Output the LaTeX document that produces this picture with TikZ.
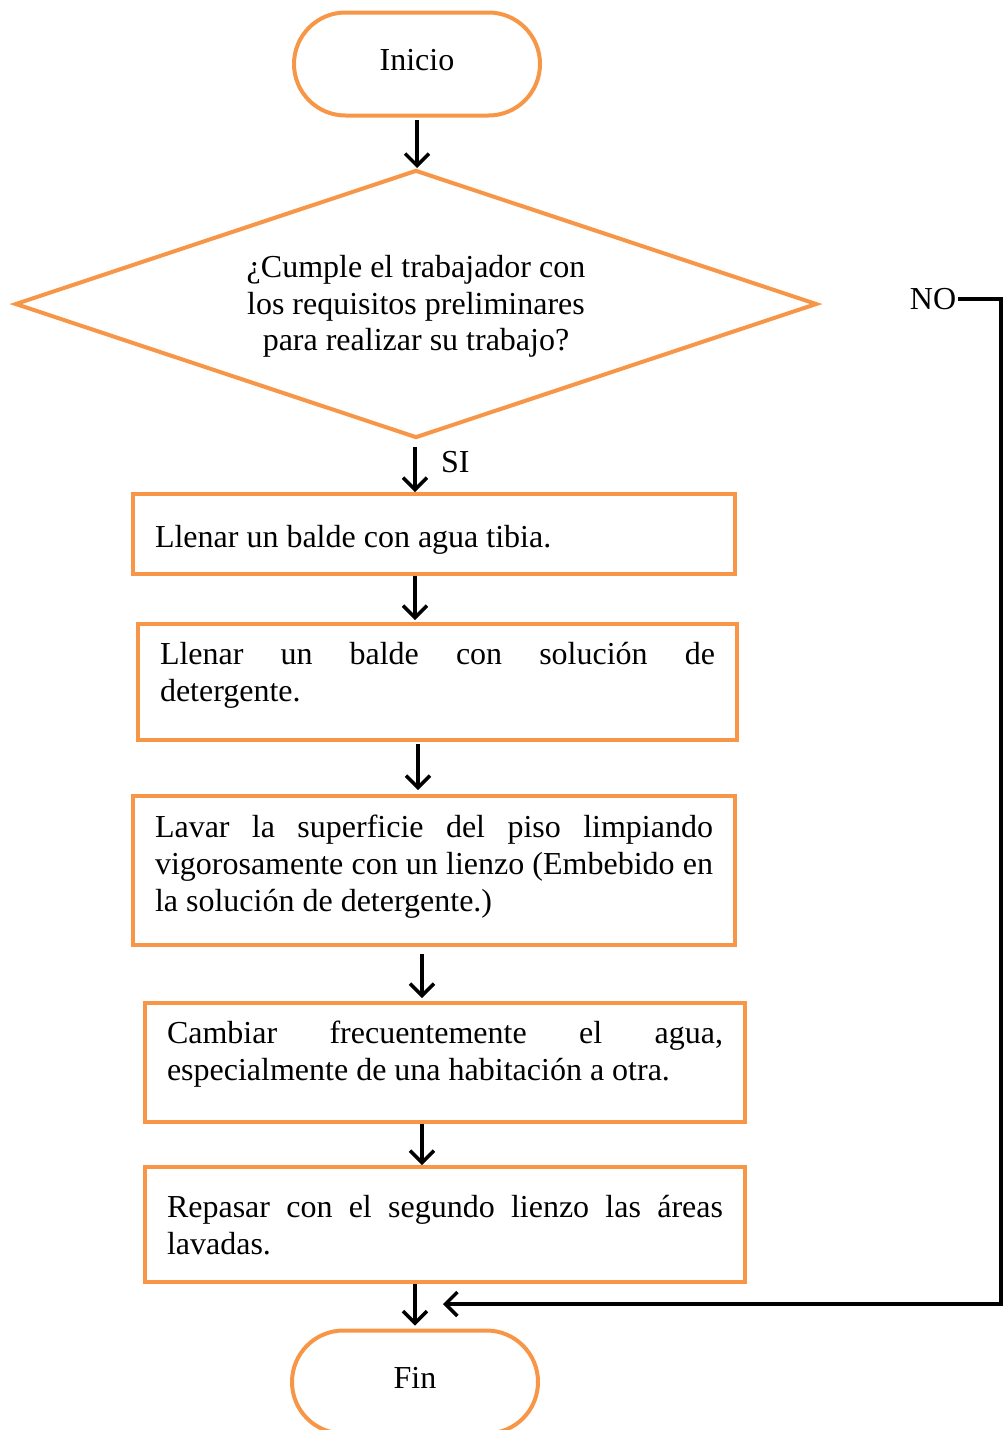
\documentclass[tikz,border=0pt]{standalone}
\usepackage{fontspec}
\setmainfont{Liberation Serif}
\usetikzlibrary{shapes.geometric,shapes.misc,arrows.meta}
\definecolor{boxorange}{HTML}{F79646}
\tolerance=9999
\hyphenpenalty=10000

\begin{document}
\begin{tikzpicture}[x=1pt,y=-1pt,
  every node/.style={font=\fontsize{32}{37}\selectfont},
  terminal/.style={draw=boxorange,line width=4pt,rounded rectangle,
    minimum width=246pt,minimum height=103pt,inner sep=0pt,
    text height=22pt,text depth=10pt},
  decision/.style={draw=boxorange,line width=4pt,diamond,aspect=3,
    minimum width=802pt,minimum height=268pt,inner sep=0pt,align=center,
    font=\fontsize{32}{36.5}\selectfont},
  process/.style={draw=boxorange,line width=4pt,rectangle,anchor=north west,
    inner xsep=22pt,inner ysep=0pt,align=justify},
  flow/.style={draw=black,line width=3.5pt,line join=miter,
    -{Straight Barb[length=12pt,width=24pt]}},
]
\useasboundingbox (0,0) rectangle (1003,1430);
\clip (0,0) rectangle (1003,1430);

% start / end terminals
\node[terminal] (ini) at (417,64) {Inicio};
\node[terminal] (fin) at (415,1382) {Fin};

% decision
\node[decision] (dec) at (416,304) {\rule{0pt}{27pt}¿Cumple el trabajador con\\los requisitos preliminares\\para realizar su trabajo?};

% process steps
\node[process,text width=558pt,text height=53pt,text depth=27pt] (b1) at (131,492)
  {Llenar un balde con agua tibia.};
\node[process,text width=555pt,text height=40pt,text depth=76pt] (b2) at (136,622)
  {Llenar un balde con solución de\linebreak detergente.};
\node[process,text width=558pt,text height=41pt,text depth=108pt] (b3) at (131,794)
  {Lavar la superficie del piso limpiando\linebreak vigorosamente con un lienzo (Embebido en\linebreak la solución de detergente.)};
\node[process,text width=556pt,text height=40pt,text depth=79pt] (b4) at (143,1001)
  {Cambiar frecuentemente el agua,\linebreak especialmente de una habitación a otra.};
\node[process,text width=556pt,text height=50pt,text depth=65pt] (b5) at (143,1165)
  {Repasar con el segundo lienzo las áreas\linebreak lavadas.};

% branch labels
\node[anchor=west,inner sep=0pt] (si) at (441,462) {SI};
\node[inner sep=2pt] (no) at (933,299) {NO};

% main flow
\draw[flow,shorten <=2pt] (ini.south -| 417,0) -- (dec.north -| 417,0);
\draw[flow,shorten <=7pt] (dec.south -| 415,0) -- (b1.north -| 415,0);
\draw[flow,shorten >=2pt] (b1.south -| 415,0) -- (b2.north -| 415,0);
\draw[flow,shorten <=2pt,shorten >=4pt] (b2.south -| 418,0) -- (b3.north -| 418,0);
\draw[flow,shorten <=7pt,shorten >=3pt] (b3.south -| 422,0) -- (b4.north -| 422,0);
\draw[flow] (b4.south -| 422,0) -- (b5.north -| 422,0);
\draw[flow,shorten >=3pt] (b5.south -| 415,0) -- (fin.north -| 415,0);

% "NO" return path
\coordinate (corner) at (1001,1304);
\coordinate (ret) at (443,1304);
\draw[flow] (no.east) -| (corner) -- (ret);
\end{tikzpicture}
\end{document}
